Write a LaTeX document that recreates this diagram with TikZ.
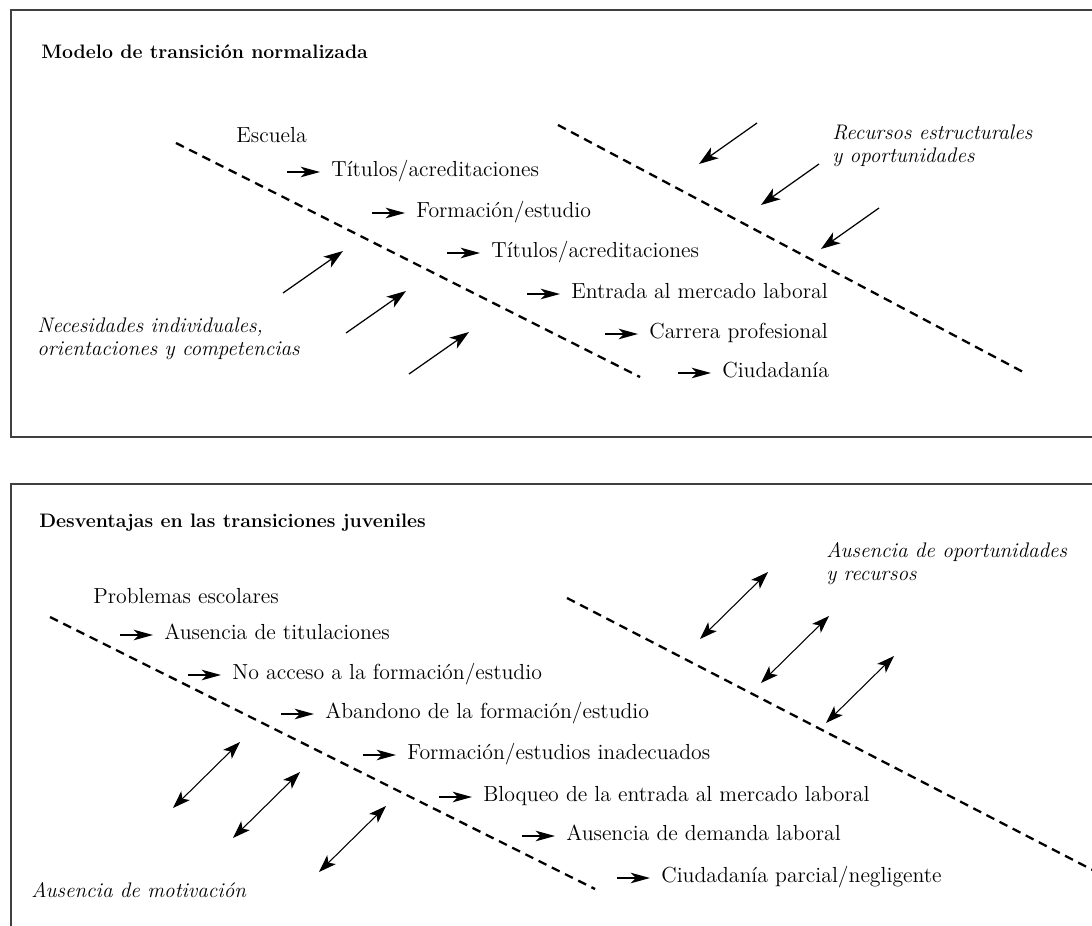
\documentclass[tikz,border=0pt]{standalone}
\usepackage{fontspec}
\usetikzlibrary{arrows.meta,calc}

\tikzset{
  panel/.style={draw=black!75, line width=1.2pt},
  track/.style={dash pattern=on 5pt off 3.4pt, line width=1.3pt},
  item/.style={anchor=west, inner sep=0pt, text height=8pt, text depth=2.5pt,
    font=\fontsize{12.4}{14}\selectfont},
  head/.style={anchor=west, inner sep=0pt, font=\fontsize{11.1}{14}\selectfont\bfseries},
  side/.style={anchor=west, inner sep=0pt, align=left, font=\fontsize{12}{13}\selectfont\itshape},
  fw/.style={-{Stealth[length=11pt,width=6pt,inset=3pt]}, line width=0.9pt},
  inw/.style={-{Stealth[length=11pt,width=7.5pt,inset=3pt]}, line width=0.7pt},
  both/.style={{Stealth[length=10pt,width=7pt,inset=2.5pt]}-{Stealth[length=10pt,width=7pt,inset=2.5pt]}, line width=0.6pt},
}

\begin{document}
\begin{tikzpicture}[x=0.02cm, y=-0.02cm]
\useasboundingbox (0,0) rectangle (1092,926);
\clip (0,0) rectangle (1092,926);

% panels
\draw[panel] (1110,10) -- (11,10) -- (11,437) -- (1110,437);
\draw[panel] (1110,484) -- (11,484) -- (11,940);

%level 1
\node[head] (title1) at (41,52) {Modelo de transición normalizada};
\node[item] (school) at (236,138) {Escuela};
\draw[track] (176,143) -- (640,377);
\draw[track] (558,125) -- (1025,373);

\foreach \k/\x/\y/\name in {1/331/172/{Títulos/acreditaciones}, 2/416/213/{Formación/estudio},
    3/491/253/{Títulos/acreditaciones}, 4/571/294/{Entrada al mercado laboral},
    5/649/334/{Carrera profesional}, 6/722/373/{Ciudadanía}} {
  \node[item] (res\k) at (\x,\y) {\name};
  \draw[fw] ($(res\k.west)+(-44,0)$) -- ($(res\k.west)+(-11,0)$);
}

% arrows in
\foreach \k/\x/\y in {1/283/293, 2/346/333, 3/409/374} {
  \coordinate (need\k) at (\x,\y);
  \coordinate (needtip\k) at (\x+60,\y-42);
  \draw[inw] (need\k) -- (needtip\k);
}
\foreach \k/\x/\y in {1/757/123, 2/819/164, 3/879/208} {
  \coordinate (offer\k) at (\x,\y);
  \coordinate (offertip\k) at (\x-58,\y+41);
  \draw[inw] (offer\k) -- (offertip\k);
}

\node[side] (needs) at (37,339) {Necesidades individuales,\\orientaciones y competencias};
\node[side] (offers) at (832,146) {Recursos estructurales\\y oportunidades};

%level 2
\node[head] (title2) at (39,523) {Desventajas en las transiciones juveniles};
\node[item] (problems) at (93,599) {Problemas escolares};
\draw[track] (50,617) -- (595,889);
\draw[track] (567,598) -- (1110,879);

\foreach \k/\x/\y/\name in {1/164/635/{Ausencia de titulaciones},
    2/232/675/{No acceso a la formación/estudio}, 3/325/714/{Abandono de la formación/estudio},
    4/407/755/{Formación/estudios inadecuados}, 5/483/797/{Bloqueo de la entrada al mercado laboral},
    6/566/836/{Ausencia de demanda laboral}, 7/661/878/{Ciudadanía parcial/negligente}} {
  \node[item] (lack\k) at (\x,\y) {\name};
  \draw[fw] ($(lack\k.west)+(-44,0)$) -- ($(lack\k.west)+(-11,0)$);
}

% double arrows
\foreach \k/\x/\y in {1/173/808, 2/233/838, 3/319/872} {
  \coordinate (mot\k) at (\x,\y);
  \coordinate (mottip\k) at (\x+67,\y-66);
  \draw[both] (mot\k) -- (mottip\k);
}
\foreach \k/\x/\y in {1/700/639, 2/761/683, 3/826/723} {
  \coordinate (opp\k) at (\x,\y);
  \coordinate (opptip\k) at (\x+68,\y-67);
  \draw[both] (opp\k) -- (opptip\k);
}

\node[side] (motivation) at (31,890) {Ausencia de motivación};
\node[side] (chances) at (826,564) {Ausencia de oportunidades\\y recursos};

\end{tikzpicture}
\end{document}
